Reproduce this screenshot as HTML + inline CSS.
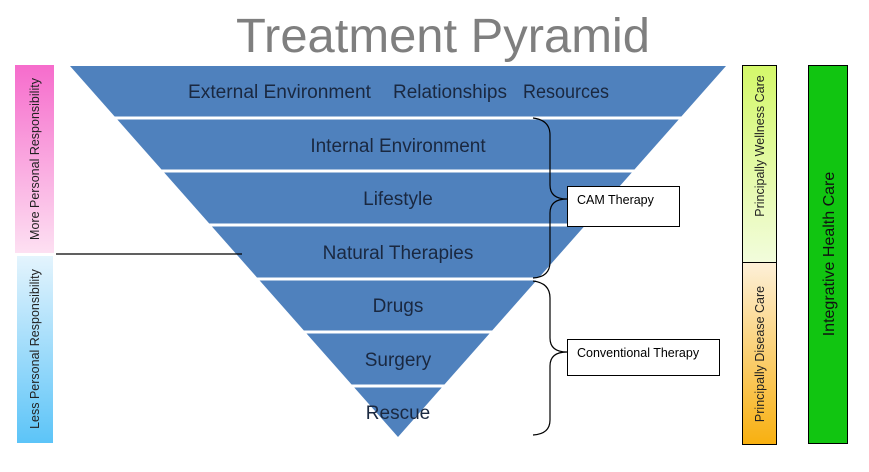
<!DOCTYPE html>
<html><head><meta charset="utf-8"><style>
html,body{margin:0;padding:0;background:#fff;width:869px;height:472px;overflow:hidden}
svg{display:block}
text{font-family:"Liberation Sans",sans-serif}
</style></head><body>
<svg width="869" height="472" viewBox="0 0 869 472" xmlns="http://www.w3.org/2000/svg">
<defs>
<linearGradient id="pink" x1="0" y1="0" x2="0" y2="1"><stop offset="0" stop-color="#f66ccc"/><stop offset="1" stop-color="#fde0f2"/></linearGradient>
<linearGradient id="blue" x1="0" y1="0" x2="0" y2="1"><stop offset="0" stop-color="#e4f4fd"/><stop offset="1" stop-color="#5cc4f8"/></linearGradient>
<linearGradient id="well" x1="0" y1="0" x2="0" y2="1"><stop offset="0" stop-color="#d4f86a"/><stop offset="1" stop-color="#f2fcdc"/></linearGradient>
<linearGradient id="dis" x1="0" y1="0" x2="0" y2="1"><stop offset="0" stop-color="#fdf0d8"/><stop offset="1" stop-color="#f8b010"/></linearGradient>
</defs>
<text x="443" y="52" text-anchor="middle" font-size="48" fill="#7f7f7f" textLength="414" lengthAdjust="spacingAndGlyphs">Treatment Pyramid</text>
<polygon points="70,66 726,66 398,437" fill="#4f81bd"/>
<g stroke="#fff" stroke-width="3">
<line x1="60" y1="118" x2="740" y2="118"/>
<line x1="60" y1="171" x2="740" y2="171"/>
<line x1="60" y1="225" x2="740" y2="225"/>
<line x1="60" y1="279" x2="740" y2="279"/>
<line x1="60" y1="332" x2="740" y2="332"/>
<line x1="60" y1="386" x2="740" y2="386"/>
</g>
<g font-size="19" fill="#1a2840">
<text x="188" y="98" textLength="183" lengthAdjust="spacingAndGlyphs">External Environment</text>
<text x="393" y="98" textLength="114" lengthAdjust="spacingAndGlyphs">Relationships</text>
<text x="523" y="98" textLength="86" lengthAdjust="spacingAndGlyphs">Resources</text>
</g>
<g font-size="19" fill="#1a2840" text-anchor="middle">
<text x="398" y="152">Internal Environment</text>
<text x="398" y="205">Lifestyle</text>
<text x="398" y="259">Natural Therapies</text>
<text x="398" y="312">Drugs</text>
<text x="398" y="366">Surgery</text>
<text x="398" y="419">Rescue</text>
</g>
<rect x="15" y="65" width="39" height="188" fill="url(#pink)"/>
<rect x="17" y="256" width="36" height="187" fill="url(#blue)"/>
<line x1="56" y1="254" x2="242" y2="254" stroke="#000" stroke-width="1.2"/>
<text transform="translate(39,159) rotate(-90)" text-anchor="middle" font-size="12.5" fill="#222">More Personal Responsibility</text>
<text transform="translate(39,349) rotate(-90)" text-anchor="middle" font-size="12.5" fill="#222">Less Personal Responsibility</text>
<rect x="742.5" y="65.5" width="34" height="197" fill="url(#well)" stroke="#000"/>
<rect x="742.5" y="262.5" width="34" height="182" fill="url(#dis)" stroke="#000"/>
<text transform="translate(764,146) rotate(-90)" text-anchor="middle" font-size="12.5" fill="#222">Principally Wellness Care</text>
<text transform="translate(764,354) rotate(-90)" text-anchor="middle" font-size="12.5" fill="#222">Principally Disease Care</text>
<rect x="808.5" y="65.5" width="39" height="378" fill="#11c511" stroke="#000"/>
<text transform="translate(834,254) rotate(-90)" text-anchor="middle" font-size="16" fill="#111">Integrative Health Care</text>
<g fill="none" stroke="#000" stroke-width="1.2">
<path d="M533,118 Q550,120 550,135 L550,185 Q550,199 567,199 Q550,199 550,213 L550,262 Q550,277 533,278"/>
<path d="M533,281 Q550,283 550,298 L550,338 Q550,352 567,352 Q550,352 550,366 L550,420 Q550,434 533,435"/>
</g>
<rect x="567.5" y="186.5" width="112" height="40" fill="#fff" stroke="#000"/>
<text x="577" y="204" font-size="12.5" fill="#000">CAM Therapy</text>
<rect x="567.5" y="339.5" width="152" height="36" fill="#fff" stroke="#000"/>
<text x="577" y="357" font-size="12.5" fill="#000">Conventional Therapy</text>
</svg>
</body></html>
